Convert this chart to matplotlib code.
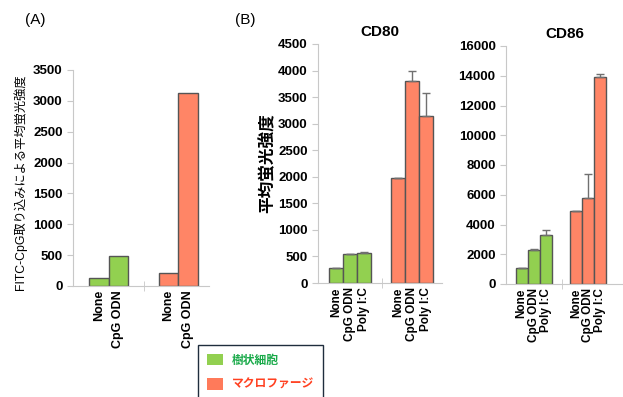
import matplotlib.pyplot as plt
from matplotlib.patches import Patch

plt.rcParams['font.family'] = ['Liberation Sans', 'Noto Sans CJK JP', 'DejaVu Sans']
plt.rcParams['font.weight'] = 'bold'

# data
green = '#92d050'
red = '#ff8566'
edge = '#555555'

a_labels = ['None', 'CpG ODN']
a_dc = [124, 486]          # 樹状細胞
a_mac = [205, 3120]        # マクロファージ

b_labels = ['None', 'CpG ODN', 'Poly I:C']
cd80_dc = [275, 555, 568]
cd80_dc_err = [8, 0, 10]
cd80_mac = [1970, 3795, 3140]
cd80_mac_err = [8, 190, 435]

cd86_dc = [1050, 2280, 3270]
cd86_dc_err = [0, 70, 360]
cd86_mac = [4900, 5795, 13920]
cd86_mac_err = [0, 1630, 220]

fig = plt.figure(figsize=(6.23, 3.97), dpi=100)
W, H = 623, 397


def ax_at(l, t, r, b):
    return fig.add_axes([l / W, 1 - b / H, (r - l) / W, (b - t) / H])


def style(ax, ymax, step):
    for s in ['top', 'right']:
        ax.spines[s].set_visible(False)
    for s in ['left', 'bottom']:
        ax.spines[s].set_color('#c8c8c8')
    ax.set_ylim(0, ymax)
    ax.set_yticks(range(0, ymax + 1, step))
    ax.tick_params(axis='y', colors='#c8c8c8', labelcolor='black', length=4, labelsize=9.5)


def bars(ax, labels, dc, mac, gap, dc_err=None, mac_err=None, fs=8.5):
    n = len(labels)
    xd = list(range(n))
    xm = [gap + i for i in range(n)]
    ekw = dict(ecolor='#707070', elinewidth=1, capsize=3)
    ax.bar(xd, dc, width=1, color=green, edgecolor=edge, linewidth=1,
           yerr=None if dc_err is None else [[0] * n, dc_err], error_kw=ekw)
    ax.bar(xm, mac, width=1, color=red, edgecolor=edge, linewidth=1,
           yerr=None if mac_err is None else [[0] * n, mac_err], error_kw=ekw)
    ax.set_xticks(xd + xm)
    ax.set_xticklabels(labels + labels, rotation=90, fontsize=fs)
    ax.tick_params(axis='x', length=0, pad=3)
    ax.set_xticks([(n - 1 + gap) / 2 + 0.05], minor=True)
    ax.tick_params(axis='x', which='minor', direction='inout', length=7, color='#c8c8c8')


# (A)
axA = ax_at(73, 70, 209, 286)
bars(axA, a_labels, a_dc, a_mac, 3.58, fs=9)
axA.set_xlim(-1.34, 5.66)
style(axA, 3500, 500)
axA.set_ylabel('FITC-CpG取り込みによる平均蛍光強度', fontsize=8.8,
               fontweight='normal', labelpad=4, y=0.48)
fig.text(35 / W, 1 - 20 / H, '(A)', fontsize=11, fontweight='normal',
         ha='center', va='center')

# CD80
ax80 = ax_at(318, 44, 442, 283)
bars(ax80, b_labels, cd80_dc, cd80_mac, 4.43, cd80_dc_err, cd80_mac_err)
ax80.set_xlim(-1.29, 7.57)
style(ax80, 4500, 500)
ax80.set_title('CD80', fontsize=11, fontweight='semibold', pad=6)
ax80.set_ylabel('平均蛍光強度', fontsize=12, fontweight='bold', labelpad=2)
fig.text(245 / W, 1 - 20 / H, '(B)', fontsize=11, fontweight='normal',
         ha='center', va='center')

# CD86
ax86 = ax_at(506, 46, 623, 284)
bars(ax86, b_labels, cd86_dc, cd86_mac, 4.52, cd86_dc_err, cd86_mac_err)
ax86.set_xlim(-1.3, 8.4)
style(ax86, 16000, 2000)
ax86.set_title('CD86', fontsize=11, fontweight='semibold', pad=6)

# legend
handles = [Patch(facecolor=green, edgecolor='none', label='樹状細胞'),
           Patch(facecolor='#ff7a5a', edgecolor='none', label='マクロファージ')]
leg = fig.legend(handles=handles, loc='upper left',
                 bbox_to_anchor=(198 / W, 1 - 345 / H), borderaxespad=0,
                 fancybox=False, edgecolor='#1f2d3d', framealpha=1,
                 handlelength=1.35, handleheight=1.1, handletextpad=0.75,
                 labelspacing=1.0, borderpad=0.75,
                 prop={'size': 8.5, 'weight': 'bold'})
leg.get_frame().set_linewidth(1)
leg.get_texts()[0].set_color('#1aaa4a')
leg.get_texts()[1].set_color('#ff4020')

fig.canvas.draw()
for ax in [axA, ax80, ax86]:
    for lbl in ax.get_yticklabels():
        lbl.set_fontweight('heavy')

fig.savefig('out.png', dpi=100)
